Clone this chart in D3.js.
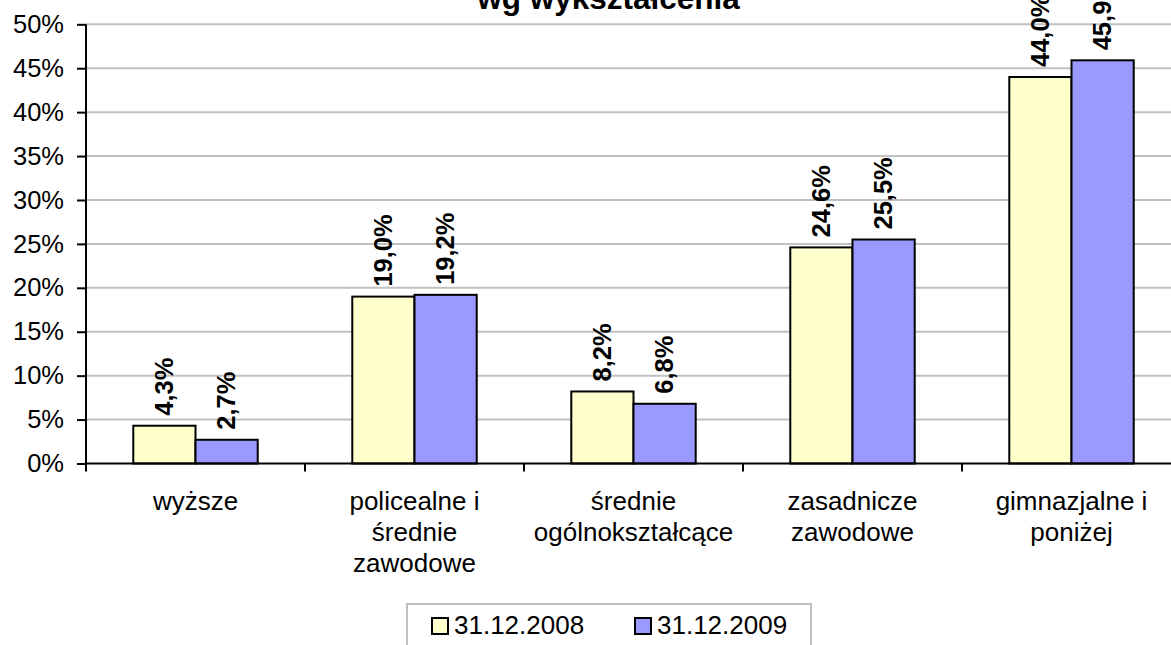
<!DOCTYPE html>
<html>
<head>
<meta charset="utf-8">
<script src="https://cdn.jsdelivr.net/npm/d3@7"></script>
<style>
  html, body { margin: 0; padding: 0; background: #fff; }
  svg { display: block; font-family: Arial, "Liberation Sans", sans-serif; }
</style>
</head>
<body>
<svg id="chart" width="1171" height="645"></svg>
<script>
// Education level categories (lines split for the axis labels)
const categories = [
  "wyższe",
  "policealne i\nśrednie\nzawodowe",
  "średnie\nogólnokształcące",
  "zasadnicze\nzawodowe",
  "gimnazjalne i\nponiżej"
];
const seriesNames = ["31.12.2008", "31.12.2009"];
const values2008 = [4.3, 19.0, 8.2, 24.6, 44.0];
const values2009 = [2.7, 19.2, 6.8, 25.5, 45.9];
const yTicks = [0, 5, 10, 15, 20, 25, 30, 35, 40, 45, 50];
const title = "wg wykształcenia";

const colors = ["#FFFFCC", "#9999FF"];
const series = [values2008, values2009];

const svg = d3.select("#chart");
const plotLeft = 86, plotTop = 24.3, plotBottom = 463.5, plotRight = 86 + 5 * 219;

const x = d3.scaleBand().domain(d3.range(categories.length)).range([plotLeft, plotRight]).paddingInner(0).paddingOuter(0);
const y = d3.scaleLinear().domain([0, 50]).range([plotBottom, plotTop]);
const barW = x.bandwidth() / (2 + 1.52);
const gap = (x.bandwidth() - 2 * barW) / 2;
const x1 = d3.scaleBand().domain([0, 1]).range([gap, gap + 2 * barW]);

// gridlines
svg.append("g").selectAll("line").data(yTicks.filter(d => d > 0)).join("line")
  .attr("x1", plotLeft).attr("x2", plotRight)
  .attr("y1", d => y(d)).attr("y2", d => y(d))
  .attr("stroke", "#C0C0C0").attr("stroke-width", 2);

// title (partly above the visible area)
svg.append("text").attr("x", 608.5).attr("y", 9).attr("text-anchor", "middle")
  .attr("font-weight", "bold").attr("font-size", 31.5).text(title);

// bars
const fmt = v => v.toFixed(1).replace(".", ",") + "%";
series.forEach((vals, si) => {
  const g = svg.append("g");
  g.selectAll("rect").data(vals).join("rect")
    .attr("x", (d, i) => x(i) + x1(si))
    .attr("y", d => y(d))
    .attr("width", x1.bandwidth())
    .attr("height", d => y(0) - y(d))
    .attr("fill", colors[si]).attr("stroke", "#000").attr("stroke-width", 2);
  g.selectAll("text").data(vals).join("text")
    .attr("transform", (d, i) => `translate(${x(i) + x1(si) + x1.bandwidth() / 2},${y(d) - 10}) rotate(-90)`)
    .attr("dy", "0.33em")
    .attr("font-weight", "bold").attr("font-size", 25.5)
    .text(fmt);
});

// y axis
const yAxis = d3.axisLeft(y).tickValues(yTicks).tickSize(9).tickPadding(13).tickFormat(d => d + "%");
const ya = svg.append("g").attr("transform", `translate(${plotLeft},0)`).call(yAxis);
ya.select(".domain").attr("d", `M0,${plotTop}V${plotBottom + 8}`).attr("stroke-width", 2);
ya.selectAll(".tick line").attr("stroke-width", 2);
ya.selectAll(".tick text").attr("font-size", 25.5).attr("font-family", "Arial, 'Liberation Sans', sans-serif").attr("fill", "#000");

// x axis line and category boundary ticks
svg.append("line").attr("x1", plotLeft).attr("x2", plotRight).attr("y1", plotBottom).attr("y2", plotBottom)
  .attr("stroke", "#000").attr("stroke-width", 2);
svg.append("g").selectAll("line").data(d3.range(1, categories.length + 1)).join("line")
  .attr("x1", i => plotLeft + i * x.bandwidth()).attr("x2", i => plotLeft + i * x.bandwidth())
  .attr("y1", plotBottom).attr("y2", plotBottom + 8)
  .attr("stroke", "#000").attr("stroke-width", 2);

// category labels
svg.append("g").selectAll("text").data(categories).join("text")
  .attr("text-anchor", "middle").attr("font-size", 26)
  .each(function (d, i) {
    const t = d3.select(this);
    d.split("\n").forEach((line, k) => {
      t.append("tspan").attr("x", x(i) + x.bandwidth() / 2).attr("y", 510 + k * 31).text(line);
    });
  });

// legend
const lg = svg.append("g");
lg.append("rect").attr("x", 407).attr("y", 604).attr("width", 404).attr("height", 60)
  .attr("fill", "#fff").attr("stroke", "#C0C0C0").attr("stroke-width", 2);
const legendX = [432, 635];
seriesNames.forEach((name, si) => {
  lg.append("rect").attr("x", legendX[si]).attr("y", 618).attr("width", 16).attr("height", 16)
    .attr("fill", colors[si]).attr("stroke", "#000").attr("stroke-width", 2);
  lg.append("text").attr("x", legendX[si] + 22).attr("y", 634).attr("font-size", 26).text(name);
});
</script>
</body>
</html>
